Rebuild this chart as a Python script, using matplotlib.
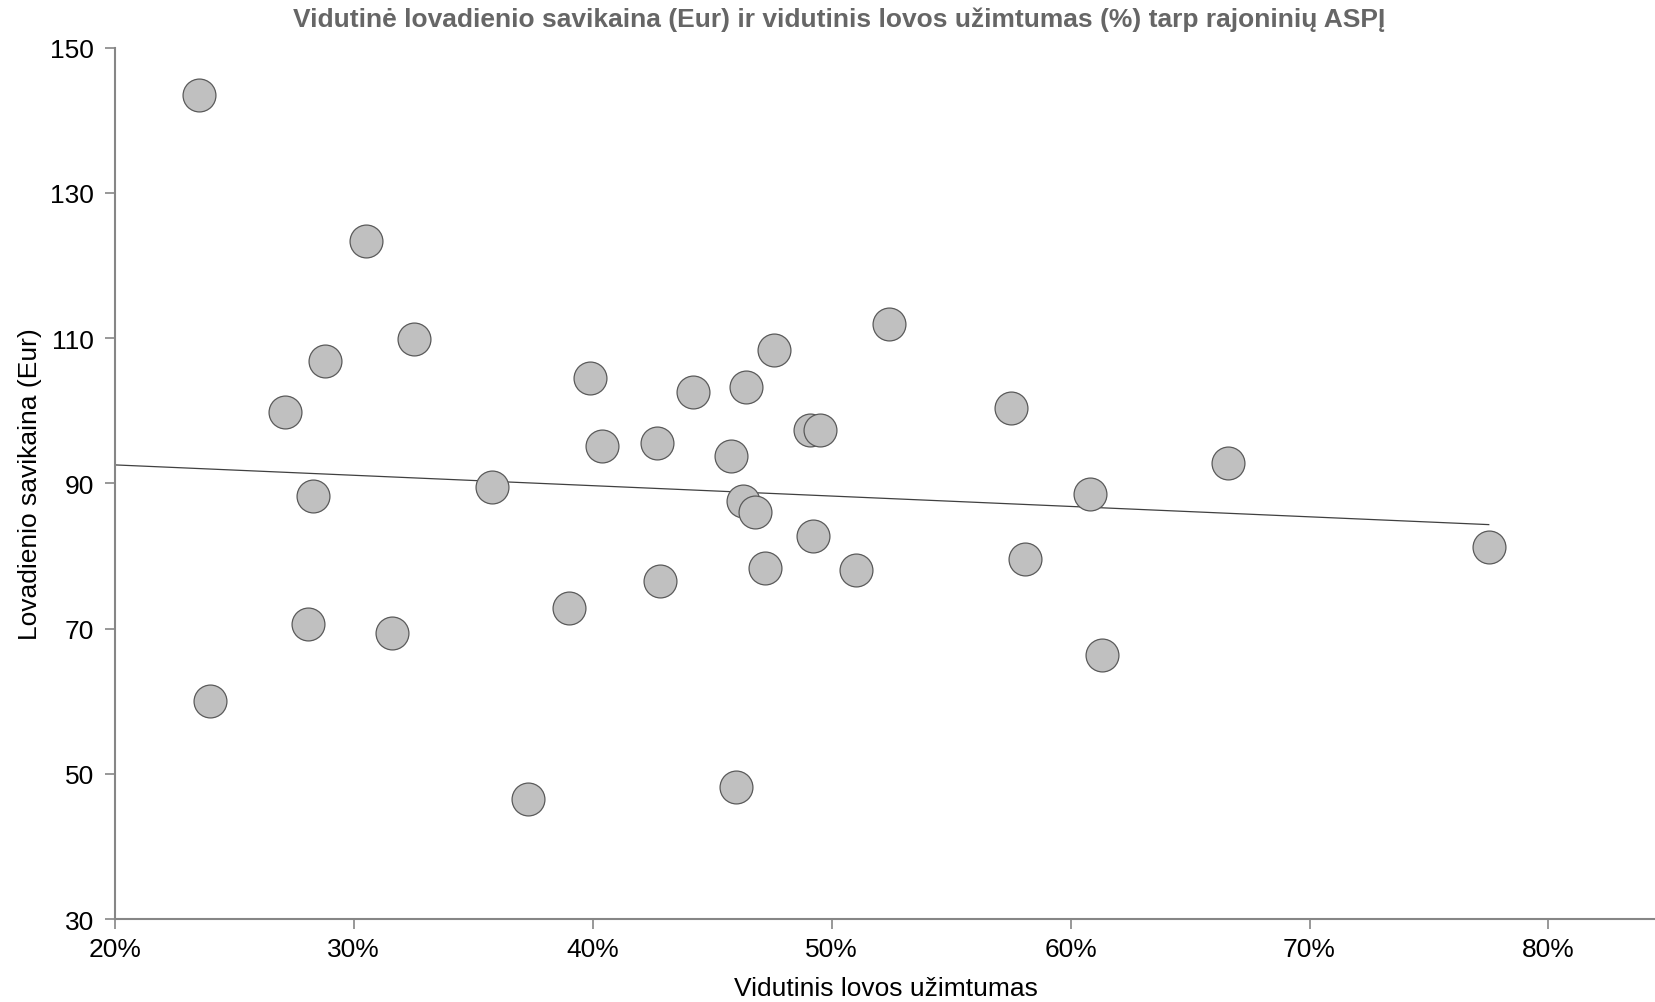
import numpy as np
import matplotlib
matplotlib.use('Agg')
import matplotlib.pyplot as plt
from matplotlib.ticker import PercentFormatter

matplotlib.rcParams['font.family'] = ['Liberation Sans', 'DejaVu Sans']

# Vidutinis lovos užimtumas (dalis) ir lovadienio savikaina (Eur)
uzimtumas = [0.235, 0.240, 0.271, 0.283, 0.281, 0.288, 0.305, 0.316, 0.325,
             0.358, 0.373, 0.390, 0.399, 0.404, 0.427, 0.428, 0.442, 0.458,
             0.460, 0.464, 0.463, 0.468, 0.472, 0.476, 0.491, 0.495, 0.492,
             0.510, 0.524, 0.575, 0.581, 0.608, 0.613, 0.666, 0.775]
savikaina = [143.5, 60.0, 99.8, 88.3, 70.6, 106.9, 123.4, 69.4, 109.9,
             89.5, 46.6, 72.8, 104.5, 95.2, 95.5, 76.5, 102.6, 93.7,
             48.2, 103.2, 87.6, 86.1, 78.4, 108.4, 97.3, 97.3, 82.8,
             78.0, 112.0, 100.4, 79.6, 88.5, 66.4, 92.8, 81.3]

# tendencijos linija (nuskaityta nuo grafiko)
trend_slope = -14.3
trend_intercept = 95.4

x = np.array(uzimtumas)
y = np.array(savikaina)

fig = plt.figure(figsize=(16.56, 10.03), dpi=100)
ax = fig.add_axes([0.0694, 0.0827, 0.9306, 0.8688])

ax.scatter(x, y, s=560, c='#c0c0c0', edgecolors='#5a5a5a', linewidths=0.9, zorder=3)

tx = np.array([0.20, x.max()])
ax.plot(tx, trend_slope * tx + trend_intercept, color='#404040', lw=0.9, zorder=2)

ax.set_xlim(0.20, 0.845)
ax.set_ylim(30, 150)
ax.set_xticks(np.arange(0.2, 0.81, 0.1))
ax.set_yticks(np.arange(30, 151, 20))
ax.xaxis.set_major_formatter(PercentFormatter(1.0, decimals=0))

for s in ['top', 'right']:
    ax.spines[s].set_visible(False)
for s in ['left', 'bottom']:
    ax.spines[s].set_color('#868686')
    ax.spines[s].set_linewidth(1.5)
ax.tick_params(axis='both', colors='#868686', length=7, width=1.2, labelsize=19,
               labelcolor='black')
ax.tick_params(axis='x', pad=6)
ax.tick_params(axis='y', pad=8)

narrow = ['Liberation Sans Narrow', 'Liberation Sans', 'DejaVu Sans']
ax.set_xlabel('Vidutinis lovos užimtumas', fontsize=19, family=narrow, labelpad=11)
ax.set_ylabel('Lovadienio savikaina (Eur)', fontsize=19, family=narrow, labelpad=6)
fig.text(0.507, 0.980, 'Vidutinė lovadienio savikaina (Eur) ir vidutinis lovos užimtumas (%) tarp rajoninių ASPĮ',
         ha='center', va='center', fontsize=19, fontweight='bold', color='#666666', family=narrow)

fig.savefig('out.png', dpi=100)
